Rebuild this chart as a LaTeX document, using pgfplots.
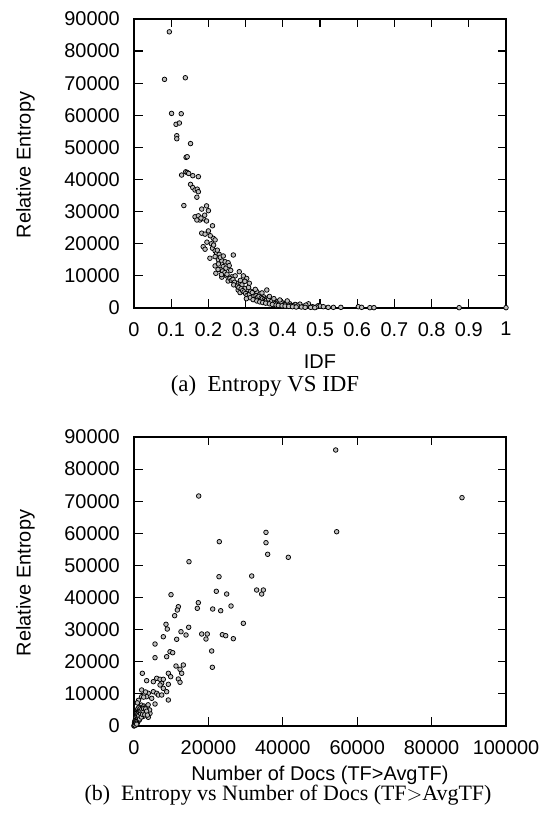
\documentclass[border=0pt]{standalone}
\usepackage{fontspec}
\setmainfont{Liberation Serif}
\setsansfont{Liberation Sans}
\usepackage{pgfplots}
\pgfplotsset{compat=1.18}

\pgfplotsset{
  myax/.style={
    scale only axis, width=372bp, height=289bp, anchor=south west,
    axis line style={line width=1.5bp},
    tick style={line width=1.2bp, black},
    tick align=inside, major tick length=8.5bp,
    tick pos=both,
    scaled ticks=false,
    ymin=0, ymax=90000,
    ytick={0,10000,20000,30000,40000,50000,60000,70000,80000,90000},
    yticklabels={0,10000,20000,30000,40000,50000,60000,70000,80000,90000},
    ticklabel style={font=\fontsize{20}{24}\selectfont\sffamily, inner sep=0pt},
    yticklabel style={xshift=-14bp},
    xticklabel style={yshift=-14bp},
    clip=false,
  },
  mk/.style={only marks, mark=*, mark size=2.3bp,
    mark options={draw=black, fill=gray!50, line width=0.75bp}},
}

\pgfplotstableread{
x y
0.082 71200
0.095 86000
0.138 71700
0.101 60600
0.127 60500
0.113 57200
0.122 57600
0.115 53650
0.115 52700
0.152 51200
0.140 46900
0.143 47100
0.128 41400
0.139 42400
0.143 42200
0.147 41900
0.158 41200
0.173 40900
0.134 31900
0.152 38500
0.158 37500
0.164 36750
0.170 37000
0.173 36200
0.169 34500
0.182 30800
0.195 31800
0.200 30300
0.164 28400
0.173 28700
0.177 27400
0.186 27800
0.195 27100
0.169 27400
0.180 28000
0.190 28900
0.211 25600
0.182 23300
0.191 23000
0.213 21700
0.218 21200
0.186 19100
0.191 18300
0.211 18600
0.218 17800
0.222 17000
0.229 16700
0.267 16500
0.204 15500
0.218 16000
0.227 15000
0.236 14700
0.245 14400
0.253 14100
0.218 13100
0.227 13700
0.240 12900
0.247 12400
0.220 10800
0.236 9600
0.249 10000
0.263 9700
0.272 10000
0.283 11300
0.294 10000
0.303 9200
0.253 8400
0.276 7700
0.290 7200
0.280 5600
0.285 4800
0.298 6100
0.307 4600
0.321 4400
0.330 5100
0.339 4400
0.357 5600
0.316 3500
0.325 3000
0.339 2700
0.348 3500
0.357 3000
0.366 2500
0.374 2300
0.384 2000
0.392 1700
0.401 1500
0.410 1700
0.419 1300
0.437 900
0.446 900
0.469 1300
0.495 700
0.397 1200
0.433 1100
0.446 1200
0.500 600
0.509 400
0.522 200
0.536 200
0.556 200
0.603 400
0.612 200
0.634 100
0.645 100
0.874 100
1.000 100
0.232 12000
0.238 11500
0.244 11000
0.250 10500
0.258 9200
0.262 8600
0.266 8900
0.270 8000
0.268 7200
0.278 6800
0.282 6400
0.288 6000
0.292 5400
0.296 5000
0.300 4500
0.304 3900
0.310 4200
0.314 5200
0.318 4800
0.322 3600
0.328 3800
0.332 3300
0.336 3600
0.342 3200
0.345 2900
0.350 2600
0.352 2200
0.356 2400
0.360 2000
0.362 2800
0.368 1800
0.370 2100
0.378 1700
0.380 1400
0.386 1500
0.390 1200
0.395 1900
0.404 1000
0.408 1200
0.414 900
0.422 800
0.428 700
0.440 600
0.455 500
0.462 900
0.480 400
0.490 300
0.200 24000
0.205 22500
0.208 20000
0.196 20500
0.214 19600
0.224 18000
0.232 15800
0.240 16200
0.226 12000
0.256 13200
0.260 11700
0.286 8600
0.298 8300
0.310 7700
0.235 10400
0.312 3200
0.320 2600
0.330 2200
0.338 1900
0.346 1700
0.354 1500
0.364 1300
0.372 1100
0.382 900
0.388 800
0.398 700
0.406 600
0.416 500
0.426 400
0.436 300
0.450 300
0.460 200
0.475 200
0.486 100
0.302 2900
0.308 6400
0.326 5800
0.344 4700
0.364 3600
0.376 2900
0.392 2500
0.412 2200
}\idfdata

\pgfplotstableread{
x y
54220 85950
88170 71100
54480 60500
41480 52530
17390 71620
14780 51160
22930 57400
35480 60300
35480 57080
35930 53470
22850 46490
31640 46710
22130 41950
24910 41100
9950 40890
32970 42350
34320 41100
34770 42350
11920 37150
11650 36120
10930 34350
17290 38400
17020 36650
21150 36430
23300 35900
26080 37370
8600 31670
8950 30200
14700 30740
13980 28340
12630 29360
11470 27000
7880 27800
18200 28650
19700 28650
19350 27090
23750 28430
24650 28120
26700 27190
29390 31980
5650 25530
5650 21270
9680 23140
10400 22830
8780 21580
20880 23360
21060 18280
2240 16410
3400 14110
5200 13800
6100 14850
7000 14540
7440 13300
7880 14540
9230 16410
9860 15350
11290 18680
12370 17660
13260 19000
12820 16410
11920 14630
12370 13610
9230 12980
7880 11740
8780 10680
9230 8100
3850 10180
5200 10680
6100 10180
6550 9650
7440 9650
7000 12770
2060 11210
2060 9130
3400 9130
4760 8620
5650 6850
4300 3950
3850 2710
2960 5510
0 0
100 200
200 500
300 800
400 1200
500 300
600 1800
700 2200
800 900
900 2600
1000 3200
1100 1500
1200 4000
1300 2800
1400 5000
1500 3600
1600 6000
1700 4500
1800 6200
1900 5500
2000 6500
2200 4200
2400 5800
2500 3000
2700 6200
2800 4400
3000 4800
3200 6000
3300 3800
3500 5800
3800 6600
4200 5000
150 1000
250 1600
350 600
450 2000
550 1400
650 3000
750 2400
850 3800
950 1100
1050 4400
1250 5600
1450 1900
1650 2500
1850 3400
1200 8000
2600 9000
3100 10600
900 7200
50 100
120 400
180 700
260 300
320 1100
380 1500
420 900
480 2400
520 1700
580 2800
620 1200
680 3400
720 600
780 1900
820 4200
880 3000
920 4800
980 2100
1020 5300
1080 3700
1150 2400
1220 4600
1280 3300
1350 5800
1420 4200
1520 2200
1580 4800
1680 5400
1760 3900
1880 4700
1960 2800
2100 5200
2300 3600
2450 4700
2600 5400
2900 3500
3100 5300
3400 4600
3600 3400
}\docdata

\begin{document}
\begin{tikzpicture}[x=1bp,y=1bp]
\useasboundingbox (0,0) rectangle (545,815);

\begin{axis}[myax, at={(134bp,507bp)},
  xmin=0, xmax=1,
  xtick={0,0.1,0.2,0.3,0.4,0.5,0.6,0.7,0.8,0.9,1},
  xticklabels={0,0.1,0.2,0.3,0.4,0.5,0.6,0.7,0.8,0.9,1}]
\addplot[mk] table[x=x,y=y] {\idfdata};
\end{axis}

\begin{axis}[myax, at={(134bp,89bp)},
  xmin=0, xmax=100000,
  xtick={0,20000,40000,60000,80000,100000},
  xticklabels={0,20000,40000,60000,80000,100000}]
\addplot[mk] table[x=x,y=y] {\docdata};
\end{axis}

\node[rotate=90, anchor=base, font=\fontsize{20}{24}\selectfont\sffamily] at (30.7,650) {Relative Entropy};
\node[rotate=90, anchor=base, font=\fontsize{20}{24}\selectfont\sffamily] at (30.7,232) {Relative Entropy};
\node[anchor=base, font=\fontsize{20}{24}\selectfont\sffamily] at (320,446.7) {IDF};
\node[anchor=base, font=\fontsize{23}{27}\selectfont\rmfamily] at (265,423.5) {(a)\ \ Entropy VS IDF};
\node[anchor=base, font=\fontsize{20}{24}\selectfont\sffamily] at (320,34.5) {Number of Docs (TF>AvgTF)};
\node[anchor=base, font=\fontsize{22}{26}\selectfont\rmfamily] at (288,14.5) {(b)\ \ Entropy vs Number of Docs (TF$>$AvgTF)};
\end{tikzpicture}
\end{document}
